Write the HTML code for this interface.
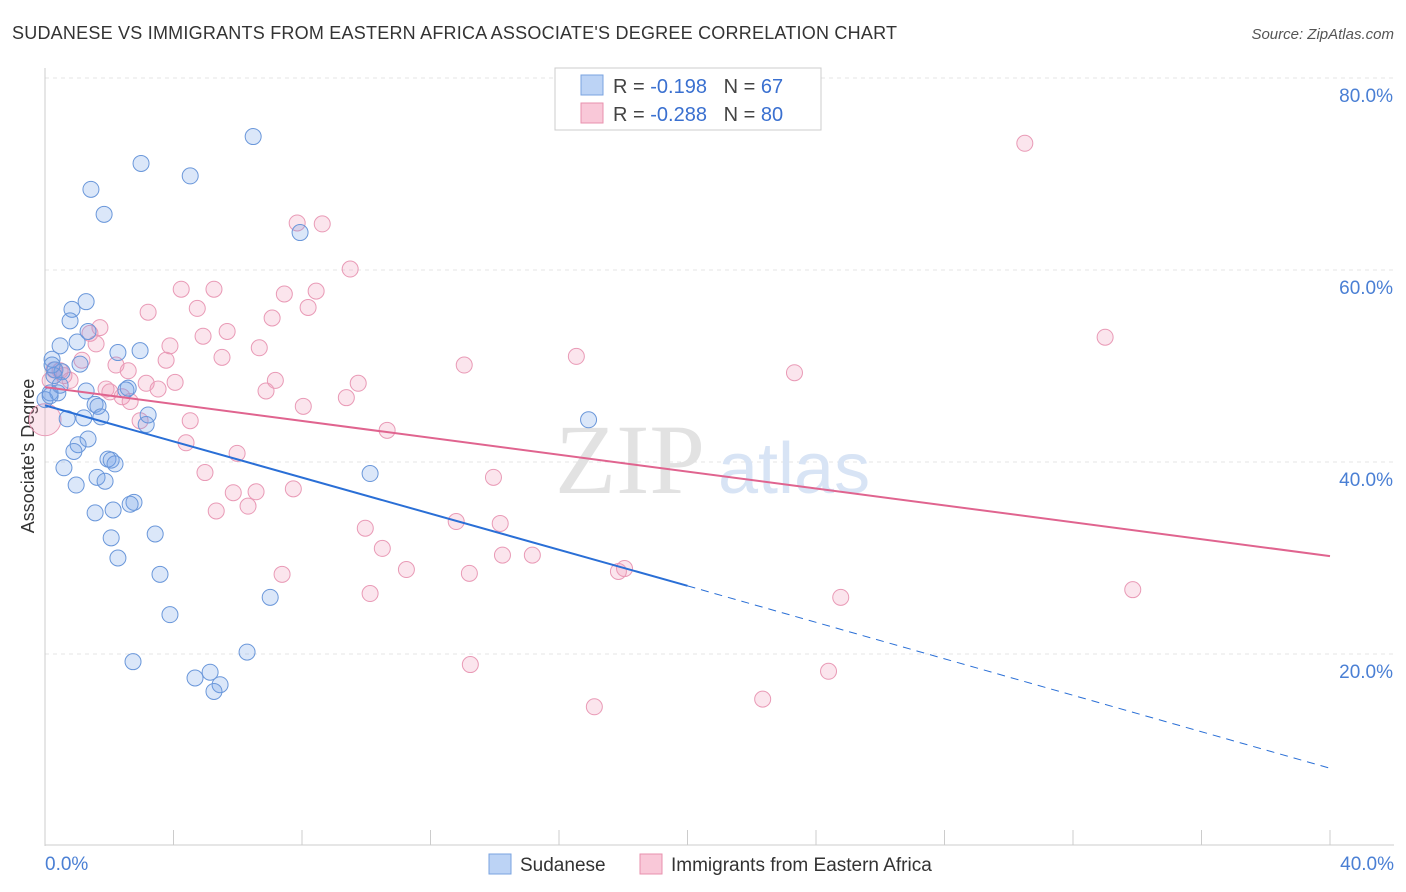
<!DOCTYPE html>
<html><head><meta charset="utf-8"><style>
body{margin:0;background:#fff;font-family:"Liberation Sans",sans-serif;}
#wrap{position:relative;width:1406px;height:892px;overflow:hidden;}
</style></head><body>
<div id="wrap">
<svg id="svg" width="1406" height="892" xmlns="http://www.w3.org/2000/svg">
<text x="12" y="39" font-size="18" fill="#333" textLength="885">SUDANESE VS IMMIGRANTS FROM EASTERN AFRICA ASSOCIATE'S DEGREE CORRELATION CHART</text>
<text x="1394" y="39" font-size="15" fill="#555" font-style="italic" text-anchor="end">Source: ZipAtlas.com</text>
<text x="34" y="456" font-size="18" fill="#333" text-anchor="middle" transform="rotate(-90 34 456)">Associate's Degree</text>
<g id="grid"></g>
<text x="555" y="493" font-size="100" fill="#e2e2e2" font-family="Liberation Serif,serif">ZIP</text>
<text x="718" y="493" font-size="72" fill="#d8e4f5">atlas</text>
<g id="pts"></g>
<g id="lines"></g>
<g>
<rect x="555" y="68" width="266" height="62" fill="#fff" stroke="#ccc"/>
<rect x="581" y="75" width="22" height="20" fill="#bcd3f5" stroke="#7aa3e0"/>
<rect x="581" y="103" width="22" height="20" fill="#f9c8d8" stroke="#e891ae"/>
<text x="613" y="93" font-size="20" fill="#444">R = <tspan fill="#3a70d0">-0.198</tspan>&#160;&#160;&#160;N = <tspan fill="#3a70d0">67</tspan></text>
<text x="613" y="121" font-size="20" fill="#444">R = <tspan fill="#3a70d0">-0.288</tspan>&#160;&#160;&#160;N = <tspan fill="#3a70d0">80</tspan></text>
</g>
<g>
<rect x="489" y="854" width="22" height="20" fill="#bcd3f5" stroke="#7aa3e0"/>
<text x="520" y="871" font-size="19" fill="#333">Sudanese</text>
<rect x="640" y="854" width="22" height="20" fill="#f9c8d8" stroke="#e891ae"/>
<text x="671" y="871" font-size="19" fill="#333">Immigrants from Eastern Africa</text>
</g>
</svg>
</div>
<script>
const yTicks=[20,40,60,80];
const yTickLabels=["20.0%","40.0%","60.0%","80.0%"];
const xTicks=[0,4,8,12,16,20,24,28,32,36,40];
const xLabelVals=[0,40];
const xLabelText=["0.0%","40.0%"];
const blueX=[6.48,2.99,1.43,4.52,1.84,7.94,1.28,0.84,0.78,1.34,1.0,0.47,2.96,2.27,0.22,1.09,0.31,0.53,0.28,0.16,0.4,1.28,2.52,2.59,1.56,1.65,3.21,0.69,1.21,1.74,3.15,1.34,1.03,0.9,1.96,2.06,2.18,0.59,10.12,1.62,1.87,0.97,2.77,2.65,2.12,1.56,2.06,3.43,2.27,3.58,3.89,7.01,6.29,2.74,5.14,4.67,5.45,5.26,16.92,0,0.16,0.22,0.47];
const blueY=[73.9,71.1,68.4,69.8,65.8,63.9,56.7,55.9,54.7,53.6,52.5,52.1,51.6,51.4,50.7,50.2,49.6,49.4,49.0,47.2,47.2,47.4,47.5,47.7,46.0,45.8,44.9,44.5,44.6,44.7,43.9,42.4,41.8,41.1,40.3,40.2,39.8,39.4,38.8,38.4,38.0,37.6,35.8,35.6,35.0,34.7,32.1,32.5,30.0,28.3,24.1,25.9,20.2,19.2,18.1,17.5,16.8,16.1,44.4,46.5,46.9,50.1,48.0];
const pinkX=[30.5,7.85,8.63,9.5,4.24,5.26,7.45,8.44,8.19,4.74,3.21,7.07,1.71,1.4,5.67,4.92,1.59,3.89,6.67,5.51,33.0,16.54,3.77,13.05,23.33,0.47,1.15,2.21,2.59,0.59,7.17,4.05,9.75,3.15,3.52,1.9,6.88,2.02,2.4,2.65,9.38,8.04,2.96,4.52,10.65,4.39,5.98,4.98,13.96,7.73,5.86,6.57,6.32,5.33,12.8,14.17,9.97,10.5,14.24,15.17,11.25,7.38,13.21,18.04,17.85,10.12,24.77,33.86,13.24,24.39,22.34,17.1,0,0.16,0.78,0.28];
const pinkY=[73.2,64.9,64.8,60.1,58.0,58.0,57.5,57.8,56.1,56.0,55.6,55.0,54.0,53.4,53.6,53.1,52.3,52.1,51.9,50.9,53.0,51.0,50.6,50.1,49.3,49.5,50.6,50.1,49.5,49.0,48.5,48.3,48.2,48.2,47.6,47.6,47.4,47.3,46.8,46.3,46.7,45.8,44.3,44.3,43.3,42.0,40.9,38.9,38.4,37.2,36.8,36.9,35.4,34.9,33.8,33.6,33.1,31.0,30.3,30.3,28.8,28.3,28.4,28.9,28.6,26.3,25.9,26.7,18.9,18.2,15.3,14.5,44.4,48.5,48.5,49.6];
const blueTrend=[45.9,27.1,8.1];
const pinkTrend=[47.8,30.2];
const NS="http://www.w3.org/2000/svg";
const sx=v=>45+v*(1285/40);
const sy=v=>846-v*9.6;
function mk(tag,attrs,parent){const e=document.createElementNS(NS,tag);for(const k in attrs)e.setAttribute(k,attrs[k]);parent.appendChild(e);return e;}
const grid=document.getElementById('grid');
yTicks.forEach((t,i)=>{
 const l=mk('line',{x1:45,x2:1394,y1:sy(t),y2:sy(t),stroke:'#e4e4e4','stroke-dasharray':'4 4'},grid);
 
 
 const tx=mk('text',{x:1393,y:sy(t)+24,'font-size':19,fill:'#4a7fd4','text-anchor':'end'},grid);
 tx.textContent=yTickLabels[i];
 
 
});
const ax=mk('line',{x1:45,x2:45,y1:68,y2:846,stroke:'#ccc'},grid);


const bx=mk('line',{x1:45,x2:1394,y1:845,y2:845,stroke:'#ccc'},grid);


xTicks.forEach(t=>{
 const l=mk('line',{x1:sx(t),x2:sx(t),y1:830,y2:845,stroke:'#ccc'},grid);
 
 
});
xLabelVals.forEach((v,i)=>{
 const tx=mk('text',{x:sx(v)+(i==0?0:64),y:870,'font-size':19,fill:'#4a7fd4','text-anchor':i==0?'start':'end'},grid);
 tx.textContent=xLabelText[i];
 
 
});
const pts=document.getElementById('pts');
pinkX.forEach((x,i)=>{
 const c=mk('circle',{cx:sx(x),cy:sy(pinkY[i]),r:(i==72?16:8),fill:'rgba(240,150,185,0.25)',stroke:'#e99ab6','stroke-width':1},pts);
 
 
});
blueX.forEach((x,i)=>{
 const c=mk('circle',{cx:sx(x),cy:sy(blueY[i]),r:8,fill:'rgba(110,160,230,0.25)',stroke:'#6a97da','stroke-width':1},pts);
 
 
});
const lines=document.getElementById('lines');
const b1=mk('line',{x1:sx(0),y1:sy(blueTrend[0]),x2:sx(20),y2:sy(blueTrend[1]),stroke:'#2a6fd6','stroke-width':2},lines);


const b2=mk('line',{x1:sx(20),y1:sy(blueTrend[1]),x2:sx(40),y2:sy(blueTrend[2]),stroke:'#2a6fd6','stroke-width':1,'stroke-dasharray':'8 6'},lines);


const p1=mk('line',{x1:sx(0),y1:sy(pinkTrend[0]),x2:sx(40),y2:sy(pinkTrend[1]),stroke:'#e0648f','stroke-width':2},lines);


</script>
</body></html>
